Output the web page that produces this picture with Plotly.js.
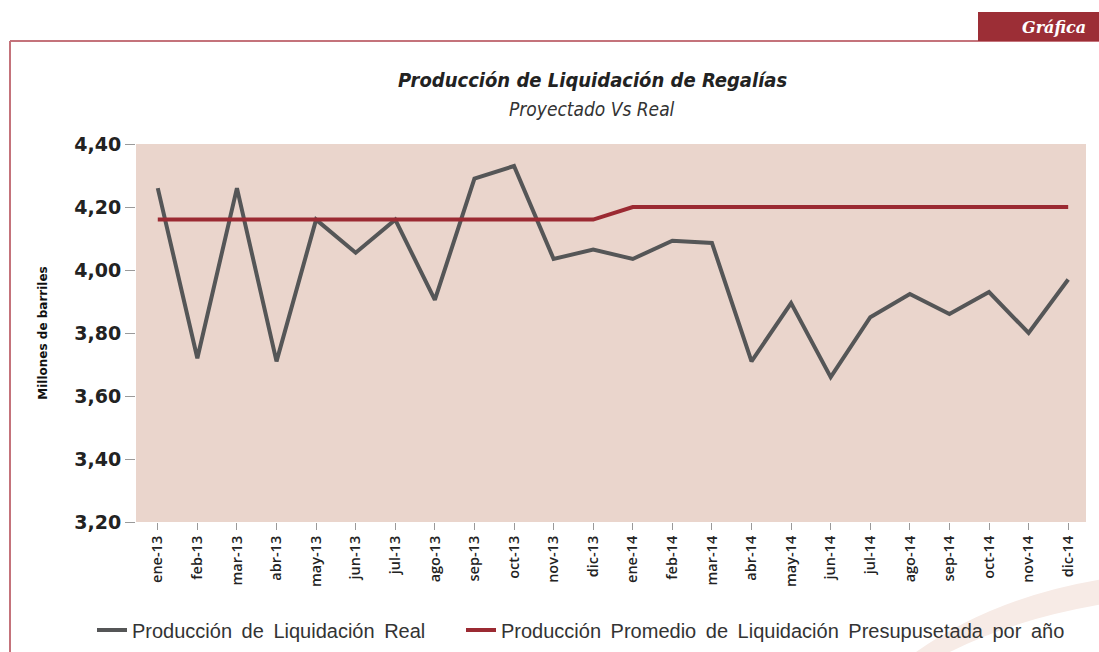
<!DOCTYPE html>
<html>
<head>
<meta charset="utf-8">
<script src="https://cdn.plot.ly/plotly-3.0.1.min.js"></script>
<style>
html,body{margin:0;padding:0;background:#fff;}
#chart{width:1099px;height:652px;}
</style>
</head>
<body>
<div id="chart"></div>
<script>
const months = ["ene-13","feb-13","mar-13","abr-13","may-13","jun-13","jul-13","ago-13","sep-13","oct-13","nov-13","dic-13",
                "ene-14","feb-14","mar-14","abr-14","may-14","jun-14","jul-14","ago-14","sep-14","oct-14","nov-14","dic-14"];
const realValues = [4.26,3.72,4.26,3.71,4.16,4.055,4.16,3.905,4.29,4.33,4.035,4.065,
                    4.035,4.093,4.086,3.71,3.895,3.66,3.85,3.924,3.86,3.93,3.80,3.97];
const budgetValues = [4.16,4.16,4.16,4.16,4.16,4.16,4.16,4.16,4.16,4.16,4.16,4.16,
                      4.20,4.20,4.20,4.20,4.20,4.20,4.20,4.20,4.20,4.20,4.20,4.20];
const yTicks = [3.20,3.40,3.60,3.80,4.00,4.20,4.40];
const seriesNames = ["Producción de Liquidación Real","Producción Promedio de Liquidación Presupusetada por año"];

const wide = s => s.split(" ").join("\u00a0\u2009");

const traces = [
  {x: months, y: realValues, type: "scatter", mode: "lines", name: wide(seriesNames[0]), legend: "legend",
   line: {color: "#555657", width: 4}},
  {x: months, y: budgetValues, type: "scatter", mode: "lines", name: wide(seriesNames[1]), legend: "legend2",
   line: {color: "#9b2a32", width: 4}}
];

const W = 1099, H = 652;
const ml = 136, mr = 13, mt = 144, mb = 130;
const px = v => (v - ml) / (W - ml - mr);
const py = v => (H - mb - v) / (H - mt - mb);

const legendFont = {family: "Liberation Sans, Arial, sans-serif", size: 20, color: "#333"};

const layout = {
  width: W, height: H,
  margin: {l: ml, r: mr, t: mt, b: mb, pad: 0, autoexpand: false},
  paper_bgcolor: "#ffffff",
  plot_bgcolor: "#ead5cc",
  separators: ",.",
  showlegend: true,
  legend: {orientation: "h", xref: "container", yref: "container",
           x: 92 / W, xanchor: "left", y: (H - 630) / H, yanchor: "middle",
           font: legendFont, bgcolor: "rgba(0,0,0,0)", itemwidth: 30},
  legend2: {orientation: "h", xref: "container", yref: "container",
           x: 461 / W, xanchor: "left", y: (H - 630) / H, yanchor: "middle",
           font: legendFont, bgcolor: "rgba(0,0,0,0)", itemwidth: 30},
  xaxis: {type: "category", tickvals: months, ticktext: months, tickangle: -90,
          automargin: false,
          showgrid: false, zeroline: false, showline: false,
          ticks: "outside", ticklen: 7, tickcolor: "#9a9a9a", tickwidth: 1,
          tickfont: {family: "Open Sans, DejaVu Sans, sans-serif", size: 14.5, color: "#222", weight: 600},
          range: [-0.55, 23.45]},
  yaxis: {range: [3.2, 4.4], tickvals: yTicks, tickformat: ".2f", automargin: false,
          showgrid: false, zeroline: false, showline: false,
          ticks: "outside", ticklen: 10, tickcolor: "#9a9a9a", tickwidth: 1,
          tickfont: {family: "DejaVu Sans, sans-serif", size: 19, color: "#222", weight: "bold"},
          title: {text: "Millones de barriles", standoff: 24,
                  font: {family: "DejaVu Sans, sans-serif", size: 12, color: "#111", weight: "bold"}}},
  annotations: [
    {text: "<b><i>Producción de Liquidación de Regalías</i></b>", xref: "paper", yref: "paper",
     x: px(592), y: py(80), xanchor: "center", yanchor: "middle",
     showarrow: false, font: {family: "DejaVu Sans Condensed, DejaVu Sans, sans-serif", size: 20, color: "#222"}},
    {text: "<i>Proyectado Vs Real</i>", xref: "paper", yref: "paper",
     x: px(592), y: py(109), xanchor: "center", yanchor: "middle",
     showarrow: false, font: {family: "DejaVu Sans Condensed, DejaVu Sans, sans-serif", size: 19, color: "#333"}},
    {text: "<b><i>Gráfica</i></b>", xref: "paper", yref: "paper",
     x: px(1088), y: py(27), xanchor: "right", yanchor: "middle",
     showarrow: false, font: {family: "DejaVu Serif, Liberation Serif, serif", size: 16, color: "#ffffff"}}
  ],
  shapes: [
    {type: "path", xref: "paper", yref: "paper", layer: "below",
     path: "M " + px(905) + "," + py(660) + " Q " + px(990) + "," + py(596) + " " + px(1110) + "," + py(578) +
           " L " + px(1110) + "," + py(603) + " Q " + px(1005) + "," + py(620) + " " + px(935) + "," + py(660) + " Z",
     fillcolor: "#f7ebe6", line: {width: 0}},
    {type: "line", xref: "paper", yref: "paper", layer: "below",
     x0: px(10), x1: px(10), y0: py(41), y1: py(660),
     line: {color: "#c4737b", width: 2}},
    {type: "line", xref: "paper", yref: "paper", layer: "below",
     x0: px(10), x1: px(1099), y0: py(41), y1: py(41),
     line: {color: "#c4737b", width: 2}},
    {type: "rect", xref: "paper", yref: "paper", layer: "below",
     x0: px(978), x1: px(1110), y0: py(12), y1: py(41),
     fillcolor: "#9c2e36", line: {width: 0}}
  ]
};

Plotly.newPlot("chart", traces, layout, {displayModeBar: false, staticPlot: true});
</script>
</body>
</html>
